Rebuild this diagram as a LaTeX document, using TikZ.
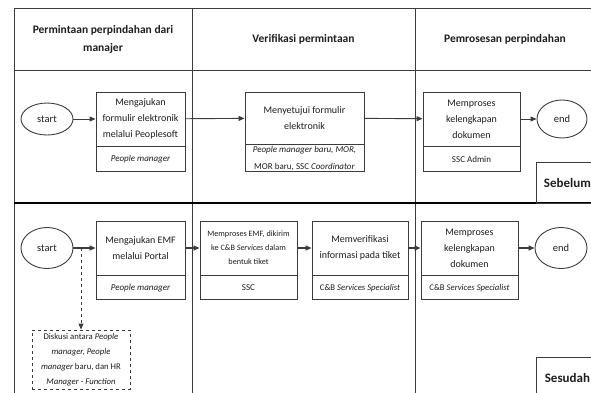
\documentclass[tikz,border=0pt]{standalone}
\usepackage{fontspec}
\setmainfont{Carlito}
\usetikzlibrary{arrows.meta,positioning,shapes.geometric}
\definecolor{lngray}{RGB}{60,60,60}
\definecolor{txgray}{RGB}{30,30,30}
\tikzset{
  frame/.style={draw=lngray, line width=0.9pt},
  lanesep/.style={draw=black, line width=2.2pt},
  phase/.style={font=\bfseries\fontsize{11.5}{18}\selectfont, align=center, text=txgray},
  taskbox/.style={draw=lngray, line width=0.9pt, fill=white, minimum width=#1,
                  minimum height=54pt, inner sep=1pt, align=center, text=txgray,
                  font=\fontsize{10}{16}\selectfont},
  rolebox/.style={draw=lngray, line width=0.9pt, fill=white, minimum width=#1,
                  minimum height=25pt, inner sep=1pt, align=center, anchor=north, text=txgray,
                  font=\fontsize{9}{16.5}\selectfont},
  termnode/.style={draw=lngray, line width=0.9pt, ellipse, fill=white, minimum width=52pt,
                   minimum height=#1, inner sep=1pt, text=txgray, font=\fontsize{10.5}{12}\selectfont},
  notebox/.style={draw=lngray, line width=0.9pt, dashed, fill=white, minimum width=98pt,
                  minimum height=59pt, inner sep=1pt, align=center, text=txgray,
                  font=\fontsize{8.7}{15}\selectfont\itshape},
  tagbox/.style={draw=lngray, line width=0.9pt, anchor=north west, minimum width=62pt,
                 minimum height=41pt, inner sep=1pt, text=txgray, font=\bfseries\fontsize{13}{15}\selectfont},
  flow/.style={draw=lngray, line width=0.9pt, -{Triangle[length=6pt,width=5pt]}},
  flowb/.style={draw=lngray, line width=1.8pt, -{Triangle[length=6pt,width=5pt]}},
  dashflow/.style={draw=lngray, line width=0.9pt, dashed, -{Triangle[length=6pt,width=5pt]}},
}

\begin{document}
\begin{tikzpicture}[x=1pt, y=-1pt]
\path[use as bounding box, clip] (0,0) rectangle (591,392);

% Swimlane frame
\draw[frame] (14,400) -- (14,8) -- (600,8);
\draw[frame] (14,70) -- (600,70);
\draw[frame] (192,8) -- (192,400);
\draw[frame] (415,8) -- (415,400);
\draw[lanesep] (14,203) -- (600,203);

% Phase headers
\node[phase] (ph1) at (103,39) {Permintaan perpindahan dari\\manajer};
\node[phase] (ph2) at (303.5,39) {Verifikasi permintaan};
\node[phase] (ph3) at (505,39) {Pemrosesan perpindahan};

% Before: old process
\node[termnode=32pt] (s1) at (47,119) {start};
\node[taskbox=89pt] (b1) at (140.5,119) {Mengajukan\\formulir elektronik\\melalui Peoplesoft};
\node[rolebox=89pt] (b1r) at (b1.south) {\itshape People manager};
\node[taskbox=119pt, minimum height=52pt] (b2) at (304.5,118) {Menyetujui formulir\\elektronik};
\node[rolebox=119pt, minimum height=27pt] (b2r) at (b2.south) {\textit{People manager baru, MOR,}\\MOR baru, SSC \textit{Coordinator}};
\node[taskbox=97pt] (b3) at (471.5,119) {Memproses\\kelengkapan\\dokumen};
\node[rolebox=97pt] (b3r) at (b3.south) {SSC Admin};
\node[termnode=38pt, minimum width=50pt] (e1) at (562,119) {end};

\draw[flow] (s1) -- (b1);
\draw[flow] (b1) -- (b2);
\draw[flow] (b2) -- (b3);
\draw[flow] (b3) -- (e1);

\node[tagbox] (pre) at (536,162) {Sebelum};

% After: new process
\node[termnode=41pt] (s2) at (47,248) {start};
\node[taskbox=89pt] (c1) at (140.5,248) {Mengajukan EMF\\melalui Portal};
\node[rolebox=89pt, minimum height=24pt] (c1r) at (c1.south) {\itshape People manager};
\node[taskbox=97pt, font=\fontsize{8.2}{14}\selectfont] (c2) at (248.5,248) {Memproses EMF, dikirim\\ke C\&B \textit{Services} dalam\\bentuk tiket};
\node[rolebox=97pt, minimum height=24pt] (c2r) at (c2.south) {SSC};
\node[taskbox=96pt] (c3) at (360,248) {Memverifikasi\\informasi pada tiket};
\node[rolebox=96pt, minimum height=24pt, font=\fontsize{8.7}{12}\selectfont] (c3r) at (c3.south) {C\&B \textit{Services Specialist}};
\node[taskbox=97pt] (c4) at (469.5,248) {Memproses\\kelengkapan\\dokumen};
\node[rolebox=97pt, minimum height=24pt, font=\fontsize{8.7}{12}\selectfont] (c4r) at (c4.south) {C\&B \textit{Services Specialist}};
\node[termnode=41pt] (e2) at (561,248) {end};

\draw[flowb] (s2) -- (c1);
\draw[flowb] (c1) -- (c2);
\draw[flowb] (c2) -- (c3);
\draw[flowb] (c3) -- (c4);
\draw[flowb] (c4) -- (e2);

% Discussion branch
\coordinate (fork) at (81,248);
\node[notebox] (disc) at (81,359.5) {\upshape Diskusi antara \itshape People\\manager, People\\manager \upshape baru, dan HR\\\itshape Manager - Function};
\draw[dashflow] (fork) -- (disc);

\node[tagbox] (post) at (536,357) {Sesudah};
\end{tikzpicture}
\end{document}
